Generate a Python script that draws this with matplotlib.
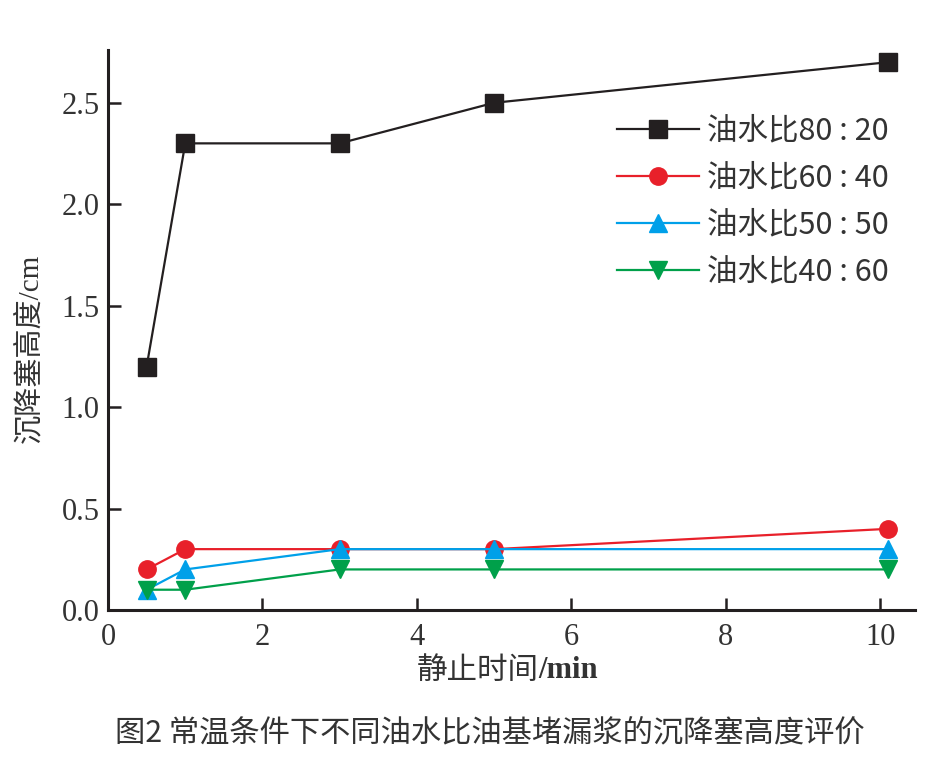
import matplotlib
matplotlib.use('Agg')
import matplotlib.pyplot as plt

# data
time_min = [0.5, 1, 3, 5, 10.1]
ratio_80_20 = [1.2, 2.3, 2.3, 2.5, 2.7]
ratio_60_40 = [0.2, 0.3, 0.3, 0.3, 0.4]
ratio_50_50 = [0.1, 0.2, 0.3, 0.3, 0.3]
ratio_40_60 = [0.1, 0.1, 0.2, 0.2, 0.2]
labels = ['油水比80 : 20', '油水比60 : 40', '油水比50 : 50', '油水比40 : 60']
x_ticks = [0, 2, 4, 6, 8, 10]
y_ticks = [0.0, 0.5, 1.0, 1.5, 2.0, 2.5]

SERIF_CJK = ['Liberation Serif', 'Noto Sans CJK SC', 'DejaVu Sans']
CJK = ['Noto Sans CJK SC', 'DejaVu Sans']
ink = '#231f20'
txt = '#333333'


def main():
    fig = plt.figure(figsize=(9.37, 7.65), dpi=100)
    ax = fig.add_axes([0.1153, 0.2026, 0.8612, 0.732])

    series = [
        (ratio_80_20, ink, 's', 12.5),
        (ratio_60_40, '#e8202a', 'o', 12.5),
        (ratio_50_50, '#00a0e9', '^', 12.5),
        (ratio_40_60, '#00a04a', 'v', 12.5),
    ]
    for (y, c, m, ms), lab in zip(series, labels):
        ax.plot(time_min, y, color=c, marker=m, markersize=ms, lw=1.6,
                label=lab, clip_on=False)

    ax.set_xlim(0, 10.45)
    ax.set_ylim(0, 2.76)
    ax.set_xticks(x_ticks)
    ax.set_yticks(y_ticks)
    ax.set_yticklabels(['%.1f' % v for v in y_ticks])

    for s in ['top', 'right']:
        ax.spines[s].set_visible(False)
    for s in ['left', 'bottom']:
        ax.spines[s].set_linewidth(2.2)
        ax.spines[s].set_color(ink)

    ax.tick_params(direction='in', length=9, width=1.8, colors=ink,
                   labelsize=22)
    ax.tick_params(axis='x', pad=9)
    ax.tick_params(axis='y', pad=6)
    for t in ax.get_xticklabels() + ax.get_yticklabels():
        t.set_family('Liberation Serif')
        t.set_color(txt)

    # x label: regular CJK + bold serif unit
    fig.text(0.575, 1 - 670 / 765, '静止时间', ha='right', va='center',
             fontsize=22, family=CJK, color=txt)
    fig.text(0.575, 1 - 670 / 765, '/min', ha='left', va='center',
             fontsize=22, family='Liberation Serif', fontweight='bold',
             color=txt)

    ax.set_ylabel('沉降塞高度/cm', family=SERIF_CJK, fontsize=21, color=txt)
    ax.yaxis.set_label_coords(-0.0805, 0.468)

    ax.legend(loc='upper left', bbox_to_anchor=(0.629, 0.885),
              bbox_transform=fig.transFigure, frameon=False,
              prop={'family': CJK, 'size': 22}, handlelength=2.7,
              labelspacing=0.525, handletextpad=0.26, labelcolor=txt)

    fig.text(0.523, 1 - 733 / 765, '图2 常温条件下不同油水比油基堵漏浆的沉降塞高度评价',
             ha='center', va='center', fontsize=21.8, family=CJK, color=txt)

    fig.savefig('out.png', dpi=100, facecolor='white')


if __name__ == "__main__":
    main()
